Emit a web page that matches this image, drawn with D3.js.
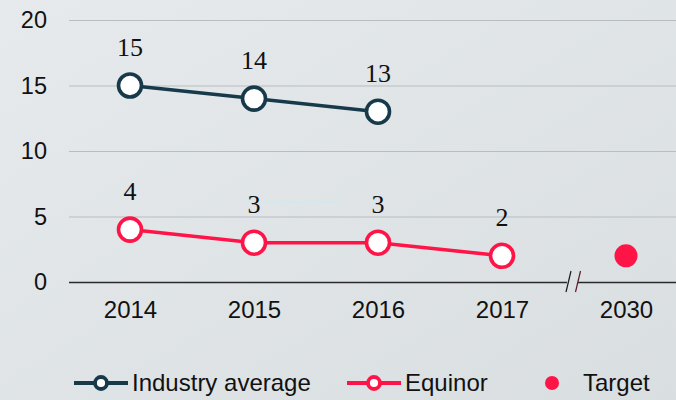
<!DOCTYPE html>
<html>
<head>
<meta charset="utf-8">
<script src="https://cdn.jsdelivr.net/npm/d3@7"></script>
<style>
  html, body { margin: 0; padding: 0; }
  body { width: 676px; height: 400px; overflow: hidden; }
</style>
</head>
<body>
<div id="app"></div>
<script>
const years = ["2014", "2015", "2016", "2017", "2030"];
const industryYears = ["2014", "2015", "2016"];
const industryValues = [15, 14, 13];
const equinorYears = ["2014", "2015", "2016", "2017"];
const equinorValues = [4, 3, 3, 2];
const targetYears = ["2030"];
const targetValues = [2];
const yTicks = [0, 5, 10, 15, 20];

const chart = () => {
  const width = 676;
  const height = 400;
  const navy = "#173a4b";
  const red = "#ff1447";
  const sans = "Liberation Sans, Arial, sans-serif";

  const svg = d3.create("svg").attr("width", width).attr("height", height);

  const grad = svg.append("defs").append("linearGradient")
    .attr("id", "bg").attr("x1", 0).attr("y1", 0).attr("x2", 1).attr("y2", 1);
  grad.append("stop").attr("offset", 0).attr("stop-color", "#e6eaed");
  grad.append("stop").attr("offset", 1).attr("stop-color", "#d9dee1");
  svg.append("rect").attr("width", width).attr("height", height).attr("fill", "url(#bg)");

  const x = d3.scalePoint().domain(years).range([130, 626]);
  const y = d3.scaleLinear().domain([0, 20]).range([282, 20]);

  // y axis + gridlines
  const yAxis = svg.append("g")
    .attr("transform", "translate(69,0)")
    .call(d3.axisLeft(y).tickValues(yTicks).tickSize(-(width - 69)).tickPadding(22));
  yAxis.select(".domain").remove();
  yAxis.selectAll(".tick line")
    .attr("stroke", d => d === 0 ? "#2a2a2a" : "#b9bdc0")
    .attr("stroke-width", d => d === 0 ? 1.3 : 1);
  yAxis.selectAll(".tick text")
    .attr("fill", "#111")
    .style("font-family", sans)
    .style("font-size", "23.5px");

  // axis break
  const mid = (x("2017") + x("2030")) / 2;
  svg.append("rect").attr("x", mid + 3).attr("y", y(0) - 2).attr("width", 11).attr("height", 4).attr("fill", "#dbdfe2");
  [mid + 4.5, mid + 14].forEach((cx, i) => {
    svg.append("line")
      .attr("x1", cx - 2.5).attr("y1", y(0) + 10)
      .attr("x2", cx + 2.5).attr("y2", y(0) - 11)
      .attr("stroke", i === 0 ? "#1a1a1a" : "#5a1a2a").attr("stroke-width", 1.2);
  });

  // x axis labels
  const xAxis = svg.append("g")
    .attr("transform", `translate(0,${y(0)})`)
    .call(d3.axisBottom(x).tickSize(0).tickPadding(19));
  xAxis.select(".domain").remove();
  xAxis.selectAll(".tick text")
    .attr("fill", "#111")
    .style("font-family", sans)
    .style("font-size", "24px");

  // faint artifact line
  svg.append("line")
    .attr("x1", x("2015") + 5).attr("x2", x("2016") - 40)
    .attr("y1", y(6.1)).attr("y2", y(6.1))
    .attr("stroke", "#cfe9f2").attr("stroke-width", 1.5);

  const line = d3.line().x(d => x(d.year)).y(d => y(d.value));

  const drawSeries = (yrs, vals, color) => {
    const data = yrs.map((year, i) => ({ year, value: vals[i] }));
    svg.append("path").datum(data)
      .attr("fill", "none").attr("stroke", color).attr("stroke-width", 3.5)
      .attr("d", line);
    svg.append("g").selectAll("circle").data(data).enter().append("circle")
      .attr("cx", d => x(d.year)).attr("cy", d => y(d.value)).attr("r", 11.5)
      .attr("fill", "#fff").attr("stroke", color).attr("stroke-width", 3.6);
    svg.append("g").selectAll("text").data(data).enter().append("text")
      .attr("x", d => x(d.year)).attr("y", d => y(d.value) - 29.5)
      .attr("text-anchor", "middle")
      .attr("fill", "#111")
      .style("font-family", "Liberation Serif, Times New Roman, serif")
      .style("font-size", "26px")
      .text(d => d.value);
  };

  drawSeries(industryYears, industryValues, navy);
  drawSeries(equinorYears, equinorValues, red);

  svg.append("g").selectAll("circle")
    .data(targetYears.map((year, i) => ({ year, value: targetValues[i] })))
    .enter().append("circle")
    .attr("cx", d => x(d.year)).attr("cy", d => y(d.value)).attr("r", 11.5)
    .attr("fill", red);

  // legend
  const ly = 383;
  const legend = svg.append("g").style("font-family", sans).style("font-size", "24px");
  [[74, navy, "Industry average"], [347, red, "Equinor"]].forEach(([lx, c, label]) => {
    legend.append("line").attr("x1", lx).attr("x2", lx + 54).attr("y1", ly).attr("y2", ly)
      .attr("stroke", c).attr("stroke-width", 4);
    legend.append("circle").attr("cx", lx + 27).attr("cy", ly).attr("r", 6)
      .attr("fill", "#fff").attr("stroke", c).attr("stroke-width", 3.8);
    legend.append("text").attr("x", lx + 58).attr("y", ly).attr("dy", "0.35em")
      .attr("fill", "#111").text(label);
  });
  legend.append("circle").attr("cx", 552).attr("cy", ly).attr("r", 7).attr("fill", red);
  legend.append("text").attr("x", 583).attr("y", ly).attr("dy", "0.35em").attr("fill", "#111").text("Target");

  return svg.node();
};

d3.select("#app").append(chart);
</script>
</body>
</html>
